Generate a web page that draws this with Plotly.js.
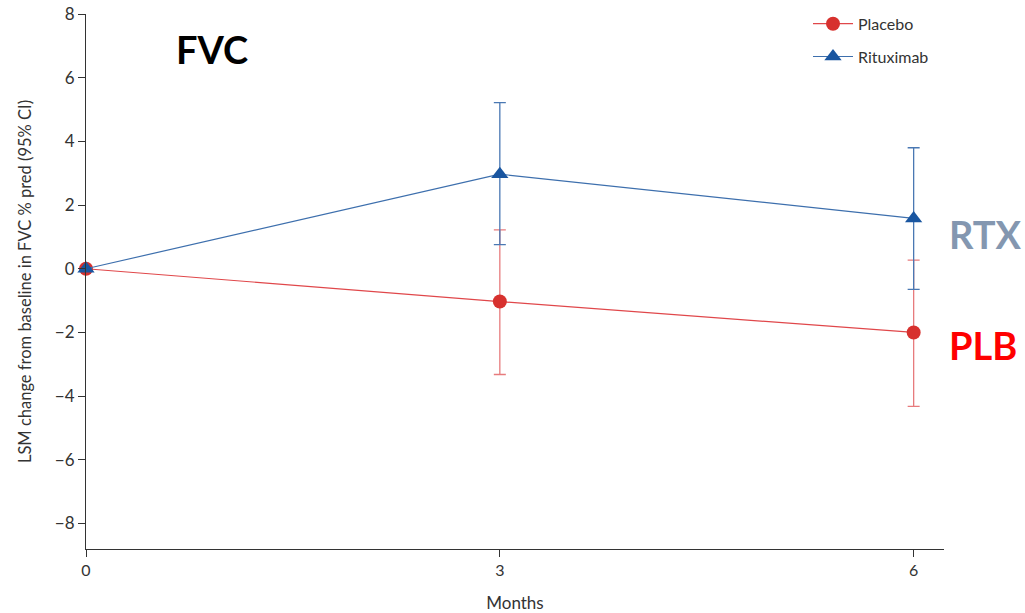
<!DOCTYPE html>
<html>
<head>
<meta charset="utf-8">
<script src="https://cdn.plot.ly/plotly-3.0.1.min.js"></script>
<style>html,body{margin:0;padding:0;background:#fff;}#chart{width:1025px;height:613px;}</style>
</head>
<body>
<div id="chart"></div>
<script>
const months = [0, 3, 6];
const placebo = [0, -1.03, -2.0];
const placeboUpper = [0, 1.22, 0.27];
const placeboLower = [0, -3.32, -4.32];
const rituximab = [0, 2.97, 1.58];
const rituximabUpper = [0, 5.22, 3.8];
const rituximabLower = [0, 0.76, -0.65];
const yTicks = [-8, -6, -4, -2, 0, 2, 4, 6, 8];
const yTickText = ['\u22128', '\u22126', '\u22124', '\u22122', '0', '2', '4', '6', '8'];
const xTicks = [0, 3, 6];

const red = '#d7312e', blue = '#1a56a0';

function errs(v, up, lo) {
  return {
    plus: v.map((d, i) => up[i] - d),
    minus: v.map((d, i) => d - lo[i])
  };
}
const pe = errs(placebo, placeboUpper, placeboLower);
const re = errs(rituximab, rituximabUpper, rituximabLower);

const traces = [
  {
    x: months, y: placebo, name: 'Placebo', type: 'scatter', mode: 'lines+markers',
    legendgroup: 'p',
    line: {color: '#e0474a', width: 1.2},
    marker: {color: red, size: 14, symbol: 'circle'},
    error_y: {type: 'data', symmetric: false, array: pe.plus, arrayminus: pe.minus,
      color: '#e77b7d', thickness: 1.3, width: 6},
    cliponaxis: false
  },
  {
    x: months, y: rituximab, name: 'Rituximab', type: 'scatter', mode: 'lines+markers',
    legendgroup: 'r',
    line: {color: '#3d6fad', width: 1.2},
    marker: {color: blue, size: 15, symbol: 'triangle-up'},
    error_y: {type: 'data', symmetric: false, array: re.plus, arrayminus: re.minus,
      color: '#4a78b3', thickness: 1.3, width: 6},
    cliponaxis: false
  }
];

const layout = {
  width: 1025, height: 613,
  margin: {l: 86, r: 81, t: 14, b: 64, autoexpand: false},
  paper_bgcolor: '#fff', plot_bgcolor: '#fff',
  font: {family: 'Lato, "Open Sans", sans-serif', color: '#333', size: 14},
  showlegend: true,
  legend: {x: 0.8415, y: 1.0135, xanchor: 'left', yanchor: 'top', font: {size: 16, color: '#333'},
    bgcolor: 'rgba(0,0,0,0)', tracegroupgap: 9, itemwidth: 40},
  xaxis: {
    range: [0, 6.22], tickvals: xTicks, ticks: 'outside', ticklen: 7, tickcolor: '#333',
    showline: true, linecolor: '#333', linewidth: 1.2, showgrid: false, zeroline: false,
    tickfont: {size: 16, color: '#333'},
    title: {text: 'Months', font: {size: 17, color: '#333'}, standoff: 20}
  },
  yaxis: {
    range: [-8.8, 8], tickvals: yTicks, ticktext: yTickText, ticks: 'outside', ticklen: 7, tickcolor: '#333',
    showline: true, linecolor: '#333', linewidth: 1.2, showgrid: false, zeroline: false,
    tickfont: {size: 17, color: '#333'},
    title: {text: 'LSM change from baseline in FVC % pred (95% CI)', font: {size: 16.5, color: '#333'}, standoff: 18}
  },
  annotations: [
    {xref: 'paper', yref: 'paper', x: 0.103, y: 0.935, xanchor: 'left', yanchor: 'middle',
      text: '<b>FVC</b>', showarrow: false, font: {size: 38, color: '#000', family: 'Lato, sans-serif'}},
    {xref: 'paper', yref: 'y', x: 1.003, y: 1.1, xanchor: 'left', yanchor: 'middle',
      text: '<b>RTX</b>', showarrow: false, font: {size: 38, color: '#8497b0', family: 'Lato, sans-serif'}},
    {xref: 'paper', yref: 'y', x: 1.003, y: -2.4, xanchor: 'left', yanchor: 'middle',
      text: '<b>PLB</b>', showarrow: false, font: {size: 38, color: '#ff0000', family: 'Lato, sans-serif'}}
  ]
};

Plotly.newPlot('chart', traces, layout, {displayModeBar: false, responsive: false});
</script>
</body>
</html>
